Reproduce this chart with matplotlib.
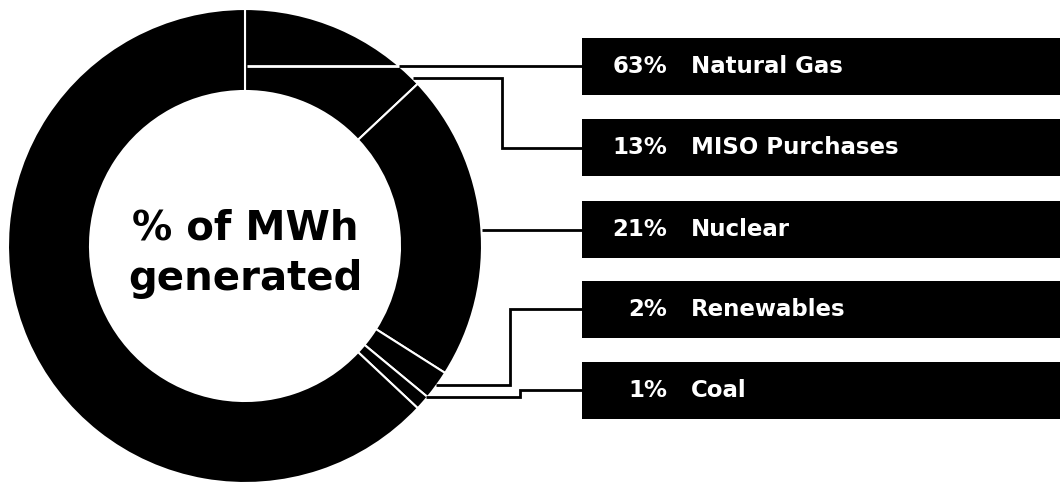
import matplotlib
matplotlib.use("Agg")
import matplotlib.pyplot as plt
from matplotlib.patches import Rectangle
import numpy as np

# ---- data ----
categories = ["MISO Purchases", "Nuclear", "Renewables", "Coal", "Natural Gas"]
shares = [13, 21, 2, 1, 63]
label_order = ["Natural Gas", "MISO Purchases", "Nuclear", "Renewables", "Coal"]
center_lines = ["% of MWh", "generated"]

W, H = 1060, 482
fig = plt.figure(figsize=(W / 100, H / 100), dpi=100)
ax = fig.add_axes([0, 0, 1, 1])

def Y(y):
    return H - y

cx, cy, R, ring = 245, 246, 237, 82

ax.pie(shares, startangle=90, counterclock=False, colors=["black"] * len(shares),
       center=(cx, Y(cy)), radius=R, frame=True,
       wedgeprops=dict(width=ring, edgecolor="white", linewidth=1.5))
ax.set_xlim(0, W)
ax.set_ylim(0, H)
ax.set_aspect("equal")
ax.axis("off")

ax.text(cx, Y(228), center_lines[0], ha="center", va="center", fontsize=29,
        fontweight="bold", color="black", family="DejaVu Sans")
ax.text(cx, Y(279), center_lines[1], ha="center", va="center", fontsize=29,
        fontweight="bold", color="black", family="DejaVu Sans")

# label boxes
box_x0, box_h = 582, 57
box_tops = [38, 119, 201, 281, 362]
val = dict(zip(categories, shares))
for name, top in zip(label_order, box_tops):
    ax.add_patch(Rectangle((box_x0, Y(top + box_h)), W - box_x0, box_h,
                           facecolor="black", edgecolor="none", zorder=3))
    yc = Y(top + box_h / 2)
    ax.text(667, yc, f"{val[name]}%", ha="right", va="center", fontsize=16.5,
            fontweight="bold", color="white", zorder=4)
    ax.text(691, yc, name, ha="left", va="center", fontsize=16.5,
            fontweight="bold", color="white", zorder=4)

# leader lines
lw = 2.0
def line(xs, ys, c="black"):
    ax.plot(xs, [Y(v) for v in ys], color=c, lw=lw, solid_joinstyle="miter",
            solid_capstyle="butt", zorder=5)

# natural gas: white over the ring, then black to the box
xg = cx + np.sqrt(R**2 - (cy - 66)**2)
line([247, xg], [66, 66], "white")
line([xg, box_x0], [66, 66])
# MISO
line([413, 502, 502, box_x0], [78, 78, 148, 148])
# Nuclear
line([482, box_x0], [230, 230])
# Renewables
line([436, 510, 510, box_x0], [385, 385, 309, 309])
# Coal
line([426, 520, 520, box_x0], [397, 397, 390, 390])

fig.savefig("out.png", dpi=100)
